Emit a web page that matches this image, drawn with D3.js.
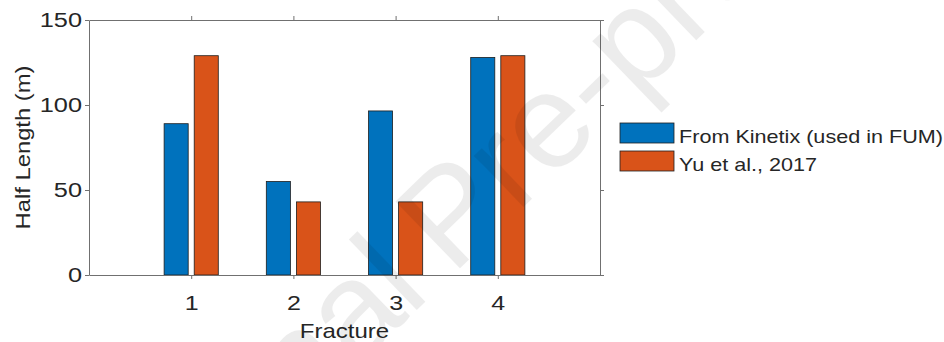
<!DOCTYPE html>
<html>
<head>
<meta charset="utf-8">
<script src="https://cdn.jsdelivr.net/npm/d3@7"></script>
<style>
  body { margin: 0; background: #fff; }
  text { font-family: "Liberation Sans", Arial, Helvetica, sans-serif; fill: #262626; }
</style>
</head>
<body>
<svg id="chart" width="944" height="342"></svg>
<script>
// data
var fractures = [1, 2, 3, 4];
var seriesNames = ["From Kinetix (used in FUM)", "Yu et al., 2017"];
var kinetix = [89, 55, 96.5, 128];
var yu2017 = [129, 43, 43, 129];
var yTicks = [0, 50, 100, 150];

(function () {
    var colors = ["#0072BD", "#D95319"];
    var values = [kinetix, yu2017];

    var svg = d3.select("#chart");
    var pl = 89, pr = 600, pt = 20, pb = 275;

    var x = d3.scaleLinear().domain([0, 5]).range([pl, pr]);
    var y = d3.scaleLinear().domain([0, 150]).range([pb, pt]);
    var xSub = d3.scaleBand().domain([0, 1]).range([-0.265, 0.265]).paddingInner(0.2);

    // bars
    var rows = [];
    fractures.forEach(function (f, i) {
        values.forEach(function (s, k) {
            rows.push({ f: f, k: k, v: s[i] });
        });
    });

    svg.append("g").selectAll("rect")
        .data(rows)
        .enter().append("rect")
        .attr("x", function (d) { return x(d.f + xSub(d.k)); })
        .attr("width", function (d) { return x(xSub.bandwidth()) - x(0); })
        .attr("y", function (d) { return y(d.v); })
        .attr("height", function (d) { return y(0) - y(d.v); })
        .attr("fill", function (d) { return colors[d.k]; })
        .attr("stroke", "#1e1e1e")
        .attr("stroke-width", 0.8);

    // axes box, ticks pointing out on all four sides
    function styleAxis(g) {
        g.selectAll("path").attr("stroke", "#707070");
        g.selectAll("line").attr("stroke", "#707070");
    }
    // text in the figure is drawn wider than a normal face, hence scale(sx,1)
    var axLeft = svg.append("g").attr("transform", "translate(" + pl + ",0)")
        .call(d3.axisLeft(y).tickValues(yTicks).tickSize(4).tickSizeOuter(0));
    axLeft.selectAll("text").attr("font-size", 19.5)
        .attr("transform", "scale(1.3,1)")
        .attr("x", -7 / 1.3);
    styleAxis(axLeft);

    var axRight = svg.append("g").attr("transform", "translate(" + pr + ",0)")
        .call(d3.axisRight(y).tickValues(yTicks).tickSize(4).tickSizeOuter(0).tickFormat(""));
    styleAxis(axRight);

    var axBottom = svg.append("g").attr("transform", "translate(0," + pb + ")")
        .call(d3.axisBottom(x).tickValues(fractures).tickSize(4).tickSizeOuter(0).tickFormat(d3.format("d")));
    axBottom.selectAll("text").attr("font-size", 20).attr("y", 35).attr("dy", 0)
        .attr("transform", "scale(1.25,1)");
    styleAxis(axBottom);

    var axTop = svg.append("g").attr("transform", "translate(0," + pt + ")")
        .call(d3.axisTop(x).tickValues(fractures).tickSize(4).tickSizeOuter(0).tickFormat(""));
    styleAxis(axTop);

    // axis titles
    svg.append("text")
        .attr("transform", "translate(" + ((pl + pr) / 2) + ",338) scale(1.2,1)")
        .attr("text-anchor", "middle")
        .attr("font-size", 20)
        .text("Fracture");

    svg.append("text")
        .attr("transform", "translate(30," + ((pt + pb) / 2) + ") rotate(-90) scale(1.16,1)")
        .attr("text-anchor", "middle")
        .attr("font-size", 20.5)
        .text("Half Length (m)");

    // legend
    var legend = svg.append("g").attr("transform", "translate(620,123)");
    var item = legend.selectAll("g")
        .data(seriesNames)
        .enter().append("g")
        .attr("transform", function (d, i) { return "translate(0," + (i * 28) + ")"; });
    item.append("rect")
        .attr("width", 54).attr("height", 20)
        .attr("fill", function (d, i) { return colors[i]; })
        .attr("stroke", "#1e1e1e").attr("stroke-width", 0.8);
    item.append("text")
        .attr("transform", "translate(59,20) scale(1.2,1)")
        .attr("font-size", 18)
        .text(function (d) { return d; });

    // faint "Journal Pre-proof" watermark
    var wm = svg.append("g").attr("transform", "translate(452,276) rotate(-44)")
        .attr("font-size", 135).style("opacity", 0.07);
    wm.append("text").attr("text-anchor", "end").attr("x", -28).style("fill", "#000").text("Journal");
    wm.append("text").attr("text-anchor", "start").style("fill", "#000").text("Pre-proof");
})();
</script>
</body>
</html>
